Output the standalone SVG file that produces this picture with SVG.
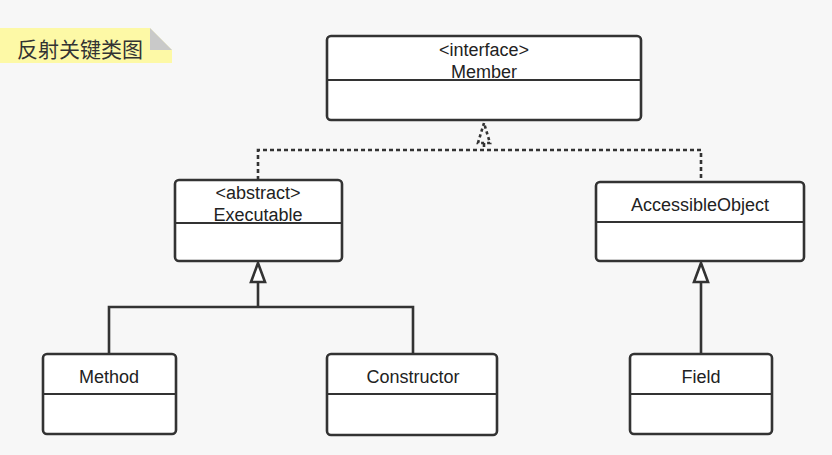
<svg xmlns="http://www.w3.org/2000/svg" width="832" height="455" viewBox="0 0 832 455">
<style>
.box{fill:#ffffff;stroke:#333333;stroke-width:2.6}
.div{stroke:#333333;stroke-width:2.2}
.t{font-family:"Liberation Sans",Arial,sans-serif;font-size:18px;fill:#222222;text-anchor:middle}
.solid{fill:none;stroke:#333333;stroke-width:2.6}
.dash{fill:none;stroke:#333333;stroke-width:2.6;stroke-dasharray:4 3}
.tri{fill:#ffffff;stroke:#333333;stroke-width:2.6}
.dtri{fill:#f7f7f7;stroke:#333333;stroke-width:2.6;stroke-dasharray:3 3}
</style>
<rect x="0" y="0" width="832" height="455" fill="#f7f7f7"/>
<g id="note">
<polygon points="0,28 150,28 172,50 172,63 0,63" fill="#fdf9a6"/>
<polygon points="150,28 172,50 150,50" fill="#c9c9c9"/>
<text x="17" y="57" font-family="'Noto Sans CJK SC',sans-serif" font-size="21" fill="#333333">反射关键类图</text>
</g>
<g id="connectors">
<polyline class="dash" points="258,180 258,150 701,150 701,182"/>
<line class="dash" x1="484" y1="143" x2="484" y2="150"/>
<polygon class="dtri" points="484,123 478,143 490,143"/>
<polyline class="solid" points="109,354 109,307 413,307 413,354"/>
<line class="solid" x1="258" y1="282" x2="258" y2="307"/>
<polygon class="tri" points="258,263 251,282 265,282"/>
<line class="solid" x1="701" y1="282" x2="701" y2="354"/>
<polygon class="tri" points="701,263 694,282 708,282"/>
</g>
<g id="member">
<rect class="box" x="327" y="36" width="314" height="84" rx="4"/>
<line class="div" x1="327" y1="80" x2="641" y2="80"/>
<text class="t" x="484" y="56">&lt;interface&gt;</text>
<text class="t" x="484" y="78">Member</text>
</g>
<g id="executable">
<rect class="box" x="175" y="180" width="167" height="81" rx="4"/>
<line class="div" x1="175" y1="223" x2="342" y2="223"/>
<text class="t" x="258" y="199">&lt;abstract&gt;</text>
<text class="t" x="258" y="221">Executable</text>
</g>
<g id="accessibleobject">
<rect class="box" x="596" y="182" width="208" height="79" rx="4"/>
<line class="div" x1="596" y1="222" x2="804" y2="222"/>
<text class="t" x="700" y="211">AccessibleObject</text>
</g>
<g id="method">
<rect class="box" x="43" y="354" width="133" height="80" rx="4"/>
<line class="div" x1="43" y1="394" x2="176" y2="394"/>
<text class="t" x="109" y="383">Method</text>
</g>
<g id="constructor">
<rect class="box" x="327" y="354" width="170" height="81" rx="4"/>
<line class="div" x1="327" y1="394" x2="497" y2="394"/>
<text class="t" x="413" y="383">Constructor</text>
</g>
<g id="field">
<rect class="box" x="630" y="354" width="142" height="80" rx="4"/>
<line class="div" x1="630" y1="394" x2="772" y2="394"/>
<text class="t" x="701" y="383">Field</text>
</g>
</svg>
